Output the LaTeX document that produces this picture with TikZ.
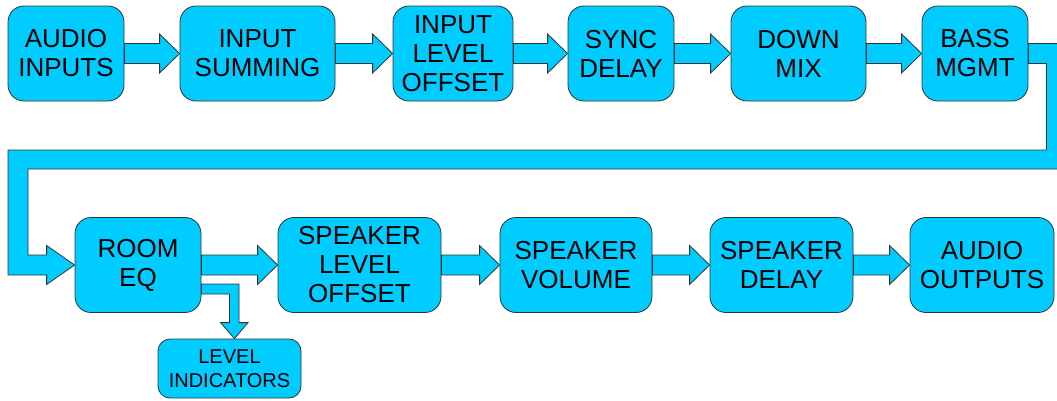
\documentclass[tikz,border=0pt]{standalone}
\usepackage{fontspec}
\setmainfont{Liberation Sans}
\usetikzlibrary{calc}
\definecolor{boxcyan}{RGB}{0,204,255}

\begin{document}
\begin{tikzpicture}[x=1pt,y=-1pt,
		block/.style={draw=black!80, line width=0.8pt, fill=boxcyan, rounded corners=16pt,
					  inner sep=0pt, minimum height=95pt, align=center,
					  font=\fontsize{26}{29}\selectfont},
		fatline/.style={draw=black!80, line width=0.8pt, fill=boxcyan, line join=miter},
		fat/.style={fatline,
					to path={($(\tikztostart)+(0,-10)$) -- ($(\tikztotarget)+(-20,-10)$)
							 -- ($(\tikztotarget)+(-20,-19.5)$) -- (\tikztotarget)
							 -- ($(\tikztotarget)+(-20,19.5)$) -- ($(\tikztotarget)+(-20,10)$)
							 -- ($(\tikztostart)+(0,10)$) -- cycle}}]
		\useasboundingbox (0,0) rectangle (1057,400);
		\clip (0,0) rectangle (1057,400);

		\node[block, minimum width=116pt] (inp) at (66,53.5) {AUDIO\\INPUTS};
		\node[block, minimum width=155pt] (summ) at (257.5,53.5) {INPUT\\SUMMING};
		\node[block, minimum width=120pt] (lvloff) at (453,53.5) {INPUT\\LEVEL\\OFFSET};
		\node[block, minimum width=106pt] (sync) at (621,53.5) {SYNC\\DELAY};
		\node[block, minimum width=135pt] (dmix) at (798.5,53.5) {DOWN\\MIX};
		\node[block, minimum width=106pt] (bass) at (975,53.5) {BASS\\MGMT};

		\node[block, minimum width=126pt] (room) at (138,265) {ROOM\\EQ};
		\node[block, minimum width=163pt] (spklvl) at (359.5,265) {SPEAKER\\LEVEL\\OFFSET};
		\node[block, minimum width=152pt] (spkvol) at (576,265) {SPEAKER\\VOLUME};
		\node[block, minimum width=143pt] (spkdel) at (781.5,265) {SPEAKER\\DELAY};
		\node[block, minimum width=144pt] (outp) at (982,265) {AUDIO\\OUTPUTS};

		\node[block, minimum width=143pt, minimum height=59pt, rounded corners=12pt,
			  font=\fontsize{20}{24}\selectfont] (lvlind) at (229.5,368.5) {LEVEL\\INDICATORS};

		\draw[fat] (inp.east) to (summ.west);
		\draw[fat] (summ.east) to (lvloff.west);
		\draw[fat] (lvloff.east) to (sync.west);
		\draw[fat] (sync.east) to (dmix.west);
		\draw[fat] (dmix.east) to (bass.west);

		\draw[fatline] ($(bass.east)+(0,-10)$) -- ++(38,0) |- (28,169)
			|- ($(room.west)+(-28,-10)$) -- ++(0,-9.5) -- (room.west) -- ++(-28,19.5)
			-- ++(0,-9.5) -| (8,150) -| ($(bass.east)+(18,10)$) -- ($(bass.east)+(0,10)$) -- cycle;

		\draw[fat] (room.east) to (spklvl.west);
		\draw[fat] (spklvl.east) to (spkvol.west);
		\draw[fat] (spkvol.east) to (spkdel.west);
		\draw[fat] (spkdel.east) to (outp.west);

		\draw[fatline] ($(room.east)+(0,19)$) -| ($(lvlind.north)+(9.5,-16)$) -- ++(9,0)
			-- ($(lvlind.north)+(5,0)$) -- ++(-14,-16) -- ++(9,0) |- ($(room.east)+(0,29)$) -- cycle;
	\end{tikzpicture}
\end{document}
